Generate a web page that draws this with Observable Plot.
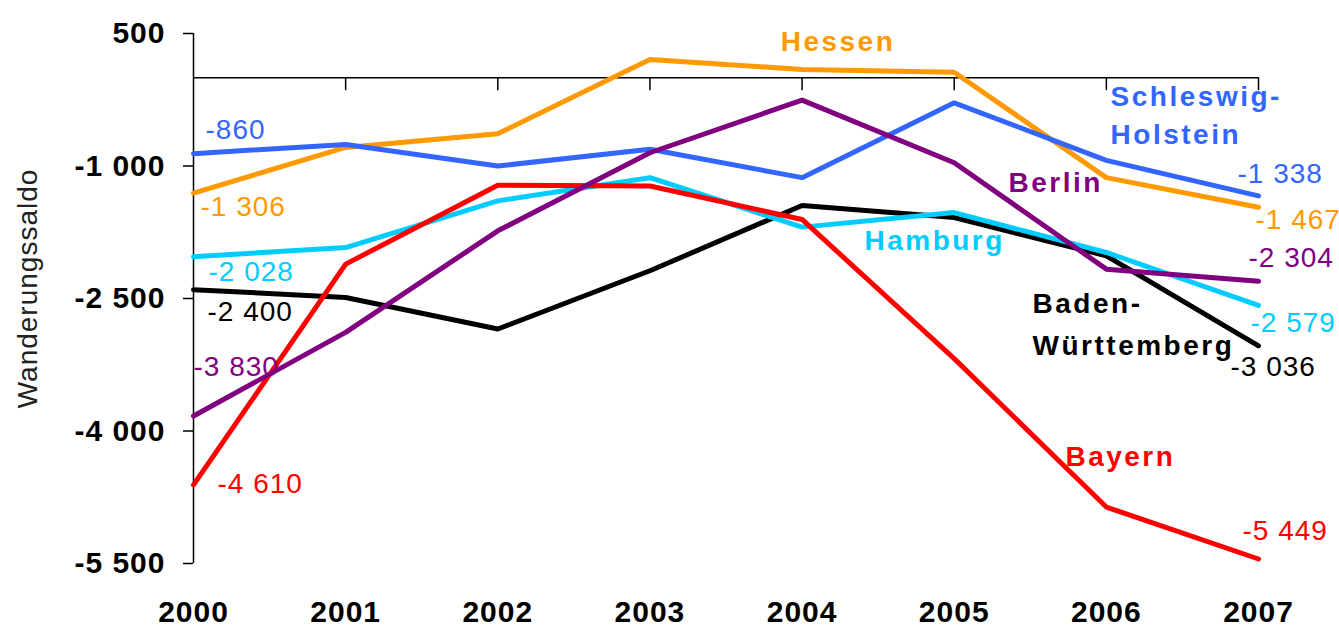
<!DOCTYPE html>
<html><head><meta charset="utf-8">
<script src="https://cdn.jsdelivr.net/npm/d3@7"></script>
<script src="https://cdn.jsdelivr.net/npm/@observablehq/plot@0.6"></script>
<style>html,body{margin:0;padding:0;background:#fff}svg{display:block}</style>
</head><body><div id="chart"></div>
<script>
// ---- data ----
const years = [2000, 2001, 2002, 2003, 2004, 2005, 2006, 2007];
const seriesNames = ["Baden-Württemberg", "Hamburg", "Bayern", "Hessen", "Schleswig-Holstein", "Berlin"];
const badenWuerttemberg = [-2400, -2488, -2845, -2186, -1447, -1584, -2017, -3036];
const hamburg = [-2028, -1923, -1395, -1132, -1692, -1527, -1979, -2579];
const bayern = [-4610, -2111, -1218, -1226, -1605, -3181, -4861, -5449];
const hessen = [-1306, -790, -635, 205, 93, 62, -1132, -1467];
const schleswigHolstein = [-860, -756, -1000, -811, -1132, -285, -936, -1338];
const berlin = [-3830, -2884, -1734, -850, -254, -963, -2168, -2304];
const seriesValues = [badenWuerttemberg, hamburg, bayern, hessen, schleswigHolstein, berlin];
const yTicks = [500, -1000, -2500, -4000, -5500];
const yLabel = "Wanderungssaldo";
// name labels (text lines) and the series they belong to
const nameLabels = [
  {text: "Hessen", series: "Hessen"},
  {text: "Schleswig-", series: "Schleswig-Holstein"},
  {text: "Holstein", series: "Schleswig-Holstein"},
  {text: "Berlin", series: "Berlin"},
  {text: "Hamburg", series: "Hamburg"},
  {text: "Baden-", series: "Baden-Württemberg"},
  {text: "Württemberg", series: "Baden-Württemberg"},
  {text: "Bayern", series: "Bayern"}
];

// ---- layout / style ----
const colors = {
  "Baden-Württemberg": "#000000", "Hamburg": "#00CCFF", "Bayern": "#FF0000",
  "Hessen": "#FF9900", "Schleswig-Holstein": "#3366FF", "Berlin": "#800080"
};
// label anchor positions in data space for the name labels
const namePos = {
  "Hessen": [2004.236, 402, "middle"],
  "Schleswig-": [2006.028, -221, "start"],
  "Holstein": [2006.028, -654, "start"],
  "Berlin": [2005.357, -1198, "start"],
  "Hamburg": [2004.41, -1854, "start"],
  "Baden-": [2005.515, -2568, "start"],
  "Württemberg": [2005.515, -3037, "start"],
  "Bayern": [2005.731, -4296, "start"]
};
// pixel offsets of first / last value labels
const startOff = {
  "Schleswig-Holstein": [12, -24], "Hessen": [7, 14], "Hamburg": [15, 15],
  "Baden-Württemberg": [14, 22], "Berlin": [0, -49], "Bayern": [24, -1]
};
const endOff = {
  "Schleswig-Holstein": [-21, -22], "Hessen": [-3, 13], "Berlin": [-10, -23],
  "Hamburg": [-8, 18], "Baden-Württemberg": [-28, 21], "Bayern": [-16, -28]
};

const fmt = d3.formatLocale({decimal: ",", thousands: " ", grouping: [3], currency: ["", " €"], minus: "-"}).format(",d");
const FONT = "'Liberation Sans', Arial, Helvetica, sans-serif";

const rows = [];
seriesNames.forEach((s, k) => years.forEach((y, i) => rows.push({series: s, year: y, value: seriesValues[k][i]})));

const valueMarks = [];
seriesNames.forEach((s, k) => {
  const vals = seriesValues[k];
  const a = startOff[s], b = endOff[s];
  valueMarks.push(Plot.text([{year: years[0], value: vals[0]}], {
    x: "year", y: "value", text: d => fmt(d.value), fill: colors[s],
    dx: a[0], dy: a[1], textAnchor: "start", fontSize: 28
  }));
  valueMarks.push(Plot.text([{year: years[years.length - 1], value: vals[vals.length - 1]}], {
    x: "year", y: "value", text: d => fmt(d.value), fill: colors[s],
    dx: b[0], dy: b[1], textAnchor: "start", fontSize: 28
  }));
});

const nameMarks = nameLabels.map(l => Plot.text([l], {
  x: () => namePos[l.text][0], y: () => namePos[l.text][1], text: "text",
  fill: colors[l.series], fontWeight: "bold", fontSize: 28, textAnchor: namePos[l.text][2]
}));

const chart = Plot.plot({
  width: 1339, height: 627,
  marginLeft: 193, marginRight: 81, marginTop: 33, marginBottom: 64,
  style: {fontFamily: FONT, fontSize: "28px", background: "#fff", color: "#000", overflow: "visible"},
  x: {domain: [2000, 2007]},
  y: {domain: [-5500, 500]},
  color: {domain: seriesNames, range: seriesNames.map(s => colors[s])},
  marks: [
    Plot.ruleY([0], {stroke: "#000", strokeWidth: 1.5}),
    Plot.ruleX(years.slice(1), {x: d => d, y1: () => 0, y2: () => 0, insetBottom: -13, stroke: "#000", strokeWidth: 1.5}),
    Plot.ruleX([years[0]], {stroke: "#000", strokeWidth: 1.5}),
    Plot.axisY({ticks: yTicks, tickFormat: fmt, tickSize: 10, tickPadding: 18, fontSize: 30, fontWeight: "bold", label: null, strokeWidth: 1.5}),
    Plot.axisX({ticks: years, tickFormat: d => String(d), tickSize: 0, tickPadding: 37, fontSize: 30, fontWeight: "bold", label: null}),
    Plot.line(rows, {x: "year", y: "value", z: "series", stroke: "series", strokeWidth: 5, strokeLinejoin: "miter"}),
    ...valueMarks,
    ...nameMarks,
    Plot.text([yLabel], {frameAnchor: "left", textAnchor: "middle", rotate: -90, dx: -165, dy: -10, fontSize: 28, fill: "#222", text: d => d})
  ]
});

const nameSet = new Set(nameLabels.map(d => d.text));
chart.querySelectorAll("text").forEach(t => {
  t.style.letterSpacing = nameSet.has(t.textContent) ? "2.5px" : "1px";
});
document.getElementById("chart").appendChild(chart);
</script>
</body></html>
